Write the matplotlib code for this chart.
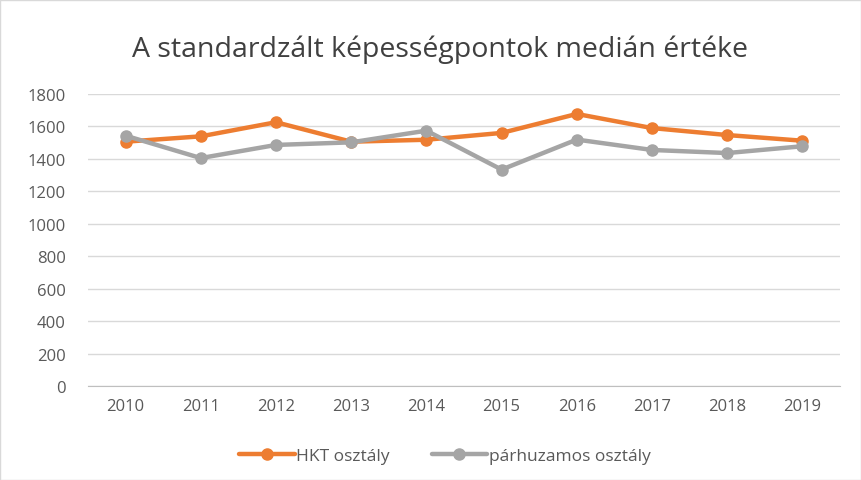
import matplotlib
matplotlib.use("Agg")
import matplotlib.pyplot as plt
from matplotlib.patches import Rectangle

years = ["2010", "2011", "2012", "2013", "2014", "2015", "2016", "2017", "2018", "2019"]
hkt = [1506, 1539, 1626, 1506, 1518, 1560, 1677, 1590, 1547, 1512]
parhuzamos = [1543, 1405, 1486, 1502, 1574, 1334, 1519, 1455, 1436, 1478]
yticks = [0, 200, 400, 600, 800, 1000, 1200, 1400, 1600, 1800]

plt.rcParams['font.family'] = ['Open Sans', 'DejaVu Sans']

W, H = 862, 481
fig = plt.figure(figsize=(W / 100, H / 100), dpi=100)
ax = fig.add_axes([88 / W, (H - 387) / H, (840 - 88) / W, (387 - 95) / H])

x = list(range(len(years)))
ax.plot(x, hkt, color="#ED7D31", lw=3.2, marker="o", ms=8, label="HKT osztály", solid_capstyle="round")
ax.plot(x, parhuzamos, color="#A5A5A5", lw=3.2, marker="o", ms=8, label="párhuzamos osztály", solid_capstyle="round")

ax.set_xlim(-0.5, len(years) - 0.5)
ax.set_ylim(0, 1800)
ax.set_yticks(yticks)
ax.set_xticks(x)
ax.set_xticklabels(years)
ax.yaxis.grid(True, color="#D9D9D9", lw=1)
ax.set_axisbelow(True)
for s in ["top", "right", "left"]:
    ax.spines[s].set_visible(False)
ax.spines["bottom"].set_color("#BFBFBF")
ax.tick_params(axis="both", length=0, labelsize=12, colors="#595959")
ax.tick_params(axis="x", pad=9)
ax.tick_params(axis="y", pad=16)

fig.text(440 / W, (H - 50) / H, "A standardzált képességpontok medián értéke", ha="center", va="center",
         fontsize=20.5, color="#404040")

leg = fig.legend(loc="center", bbox_to_anchor=(445 / W, (H - 457) / H), ncol=2, frameon=False,
                 fontsize=12.5, handlelength=3.2, columnspacing=2.4, handletextpad=0.1)
for t in leg.get_texts():
    t.set_color("#595959")

fig.patches.append(Rectangle((0.5 / W, 0.5 / H), 1 - 1.5 / W, 1 - 1.5 / H, transform=fig.transFigure,
                             fill=False, edgecolor="#D9D9D9", lw=1))

fig.savefig("out.png", dpi=100, facecolor="white")
